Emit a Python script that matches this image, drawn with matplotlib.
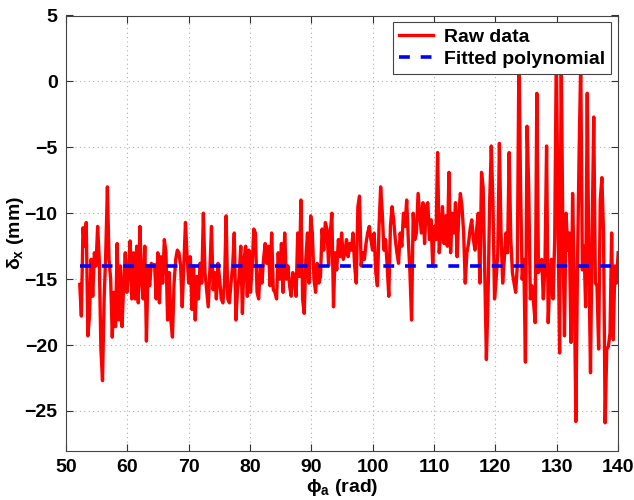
import numpy as np
import matplotlib
matplotlib.use("Agg")
import matplotlib.pyplot as plt

plt.rcParams['font.family'] = ['Liberation Sans', 'DejaVu Sans']
plt.rcParams['mathtext.fontset'] = 'custom'
plt.rcParams['mathtext.rm'] = 'Liberation Sans:bold'
plt.rcParams['mathtext.it'] = 'Liberation Sans:bold'
plt.rcParams['mathtext.bf'] = 'Liberation Sans:bold'

# Raw data (delta_x in mm), sampled uniformly from phi_start to phi_end
phi_start = 52.25
phi_end = 140.0
raw_delta = [
    -15.4, -17.8, -11.1, -12.5, -10.7, -19.3, -17.8, -13.5, -16.3,
    -13.0, -14.0, -11.0, -13.5, -20.3, -22.7, -16.5, -13.0, -8.0, -13.5,
    -15.0, -19.4, -16.0, -18.6, -12.3, -18.1, -14.0, -18.6, -15.5, -13.0,
    -16.0, -14.5, -12.1, -16.5, -13.0, -16.5, -12.5, -16.8, -11.0, -15.0,
    -16.5, -12.5, -19.7, -14.0, -15.5, -13.8, -14.0, -13.9, -16.5, -13.0,
    -16.8, -13.3, -15.3, -12.0, -13.0, -18.1, -14.5, -18.1, -19.4, -15.3,
    -13.5, -12.8, -13.0, -14.0, -17.1, -14.0, -10.7, -13.3, -15.3, -13.3,
    -17.3, -14.0, -18.1, -14.8, -16.5, -13.8, -15.3, -10.0, -14.5, -15.8,
    -17.1, -14.3, -11.0, -15.8, -14.5, -16.5, -13.8, -15.0, -16.5, -16.8,
    -15.3, -10.2, -16.5, -16.8, -15.3, -14.0, -11.5, -18.1, -15.8, -14.8,
    -12.5, -17.6, -13.5, -12.5, -16.3, -12.8, -16.0, -14.0, -11.2, -11.5,
    -16.0, -16.5, -14.0, -15.3, -13.5, -12.3, -13.8, -12.5, -15.5, -11.5,
    -15.8, -16.0, -16.5, -13.0, -15.0, -12.3, -16.0, -11.5, -15.0, -14.0,
    -15.5, -16.3, -14.5, -15.0, -16.3, -11.5, -14.8, -9.0, -16.5, -17.6,
    -13.5, -11.5, -15.3, -10.2, -11.5, -15.0, -16.0, -13.8, -15.3, -14.8,
    -11.2, -12.8, -10.7, -11.2, -14.0, -11.5, -10.0, -17.1, -13.0, -14.3,
    -12.0, -13.3, -11.5, -13.5, -13.0, -12.0, -13.3, -12.3, -12.8, -11.5,
    -14.0, -15.3, -9.5, -8.7, -14.0, -13.0, -13.5, -12.3, -11.5, -11.0,
    -12.0, -12.8, -11.5, -14.5, -15.5, -11.0, -8.0, -10.0, -12.8, -12.0,
    -14.0, -16.3, -11.0, -9.5, -10.5, -12.0, -13.0, -13.8, -11.5, -12.5,
    -10.0, -11.0, -9.0, -12.0, -14.5, -18.1, -10.0, -12.0, -11.5, -8.5,
    -10.0, -11.5, -9.2, -12.3, -9.5, -9.2, -12.0, -10.5, -14.0, -11.0,
    -12.0, -5.4, -13.0, -11.5, -9.5, -12.3, -10.2, -12.5, -6.9, -13.0,
    -10.0, -11.5, -9.2, -13.3, -10.2, -8.5, -9.5, -11.5, -15.3, -13.0,
    -12.3, -11.2, -10.5, -12.0, -12.8, -11.2, -10.0, -15.3, -6.9, -8.0,
    -14.5, -21.1, -16.5, -9.2, -4.9, -9.0, -16.5, -15.0, -13.0, -4.7,
    -11.5, -15.3, -13.5, -11.5, -13.0, -5.4, -12.0, -14.5, -15.3, -16.0,
    -14.0, 2.0, -8.0, -15.0, -13.5, -21.3, -3.4, -8.0, -16.5, -15.5,
    -16.8, -18.3, -0.9, -14.5, -14.0, -13.5, -16.5, -14.0, -4.9, -18.3,
    -15.0, -13.5, -16.5, -12.0, 2.5, -10.0, -20.6, 2.0, -11.5, -19.3,
    -10.0, -12.8, -11.5, -19.8, -8.5, -15.0, -25.8, -14.0, -5.4, 1.5,
    -14.3, -12.5, -17.1, -0.9, -14.0, -22.1, -11.5, -2.7, -15.3, -15.5,
    -20.3, -9.0, -7.3, -11.5, -25.9, -20.3, -20.1, -19.1, -11.5, -19.6,
    -14.0, -15.3, -13.0,
]
fit_level = -14.0  # fitted polynomial (constant)

x_ticks = [50, 60, 70, 80, 90, 100, 110, 120, 130, 140]
y_ticks = [-25, -20, -15, -10, -5, 0, 5]

phi = np.linspace(phi_start, phi_end, len(raw_delta))

fig = plt.figure(figsize=(6.34, 5.0), dpi=100)
ax = fig.add_axes([0.104, 0.099, 0.871, 0.870])

ax.plot(phi, raw_delta, color='#ff0000', lw=2.4, label='Raw data', zorder=3)
ax.plot([phi_start, phi_end], [fit_level, fit_level], color='#0000ff', lw=2.6,
        ls=(0, (3, 3)), label='Fitted polynomial', zorder=4)

ax.set_xlim(50, 140)
ax.set_ylim(-28, 5)
ax.set_xticks(x_ticks)
ax.set_yticks(y_ticks)
ax.set_xticklabels([str(v) for v in x_ticks])
ax.set_yticklabels(['\u2212' + str(-v) if v < 0 else str(v) for v in y_ticks])
ax.tick_params(direction='in', length=5, width=0.8, top=True, right=True,
               labelsize=14, colors='#333333', labelcolor='black', pad=6)
for lab in ax.get_xticklabels() + ax.get_yticklabels():
    lab.set_fontweight('bold')
for s in ax.spines.values():
    s.set_color('#444444')
    s.set_linewidth(0.8)
ax.grid(True, ls=(0, (1, 3)), color='#b0b0b0', lw=0.8)
ax.set_axisbelow(True)

ax.set_xlabel(r'$\phi_a$ (rad)', fontsize=14, fontweight='bold', labelpad=1)
ax.set_ylabel(r'$\delta_x$ (mm)', fontsize=14, fontweight='bold')
ax.yaxis.set_label_coords(-0.072, 0.5)

leg = ax.legend(loc='upper right', fontsize=14, frameon=True, fancybox=False,
                borderaxespad=0.35, handlelength=1.75, handletextpad=0.6,
                borderpad=0.3, labelspacing=0.25)
leg.get_frame().set_edgecolor('#444444')
leg.get_frame().set_linewidth(0.8)
leg.get_frame().set_alpha(1.0)
for t in leg.get_texts():
    t.set_fontweight('bold')

fig.savefig('out.png', dpi=100)
